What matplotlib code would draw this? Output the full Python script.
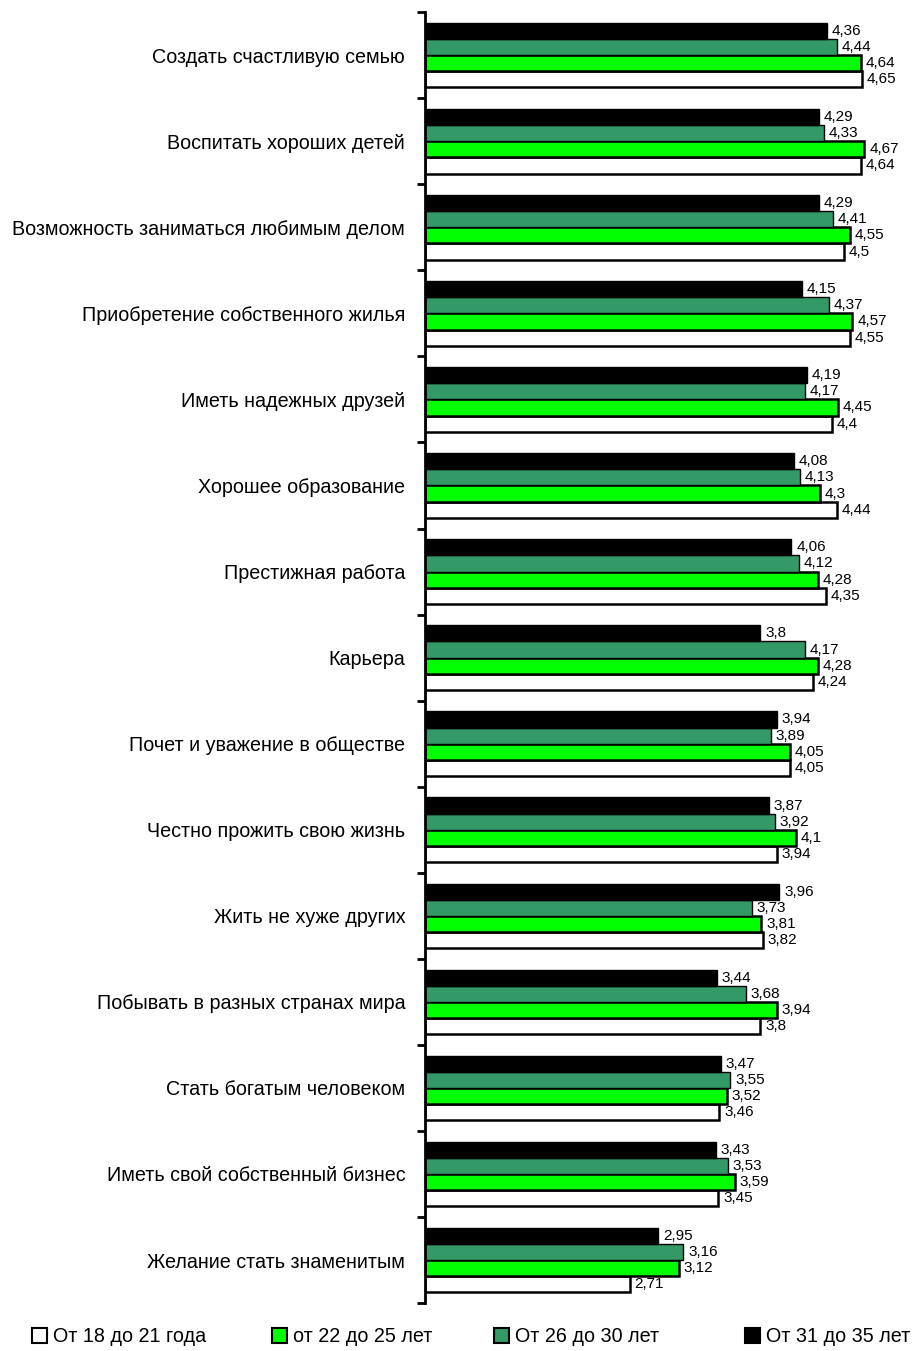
import matplotlib
matplotlib.use("Agg")
import matplotlib.pyplot as plt
import numpy as np
from matplotlib.patches import Patch

plt.rcParams['font.family'] = ['Liberation Sans', 'DejaVu Sans']

categories = [
    "Создать счастливую семью",
    "Воспитать хороших детей",
    "Возможность заниматься любимым делом",
    "Приобретение собственного жилья",
    "Иметь надежных друзей",
    "Хорошее образование",
    "Престижная работа",
    "Карьера",
    "Почет и уважение в обществе",
    "Честно прожить свою жизнь",
    "Жить не хуже других",
    "Побывать в разных странах мира",
    "Стать богатым человеком",
    "Иметь свой собственный бизнес",
    "Желание стать знаменитым",
]
age_18_21 = [4.65, 4.64, 4.5, 4.55, 4.4, 4.44, 4.35, 4.24, 4.05, 3.94, 3.82, 3.8, 3.46, 3.45, 2.71]
age_22_25 = [4.64, 4.67, 4.55, 4.57, 4.45, 4.3, 4.28, 4.28, 4.05, 4.1, 3.81, 3.94, 3.52, 3.59, 3.12]
age_26_30 = [4.44, 4.33, 4.41, 4.37, 4.17, 4.13, 4.12, 4.17, 3.89, 3.92, 3.73, 3.68, 3.55, 3.53, 3.16]
age_31_35 = [4.36, 4.29, 4.29, 4.15, 4.19, 4.08, 4.06, 3.8, 3.94, 3.87, 3.96, 3.44, 3.47, 3.43, 2.95]
series_labels = ["От 18 до 21 года", "от 22 до 25 лет", "От 26 до 30 лет", "От 31 до 35 лет"]
colors = ["#FFFFFF", "#00FF00", "#339966", "#000000"]
edge_widths = [1.8, 1.8, 1.0, 1.0]

fig = plt.figure(figsize=(9.22, 13.51), dpi=100)
ax = fig.add_axes([0.4605, 0.0355, 0.52, 0.9555])

n = len(categories)
y = np.arange(n)
h = 0.1875
series = [age_18_21, age_22_25, age_26_30, age_31_35]
offsets = [1.5 * h, 0.5 * h, -0.5 * h, -1.5 * h]
xmin = 1.0
for vals, col, off, lw in zip(series, colors, offsets, edge_widths):
    vals = np.array(vals)
    ax.barh(y + off, vals - xmin, left=xmin, height=h, color=col,
            edgecolor='black', linewidth=lw, zorder=2)
    for yi, v in zip(y, vals):
        txt = ("%g" % v).replace('.', ',')
        ax.text(v + 0.04, yi + off, txt, va='center', ha='left', fontsize=11)

ax.set_xlim(xmin, 5.0)
ax.set_ylim(n - 0.5, -0.5)
ax.set_yticks(y)
ax.set_yticklabels(categories, fontsize=14.2)
ax.tick_params(axis='y', which='major', length=0, pad=14)
ax.set_yticks(np.arange(n + 1) - 0.5, minor=True)
ax.tick_params(axis='y', which='minor', length=6, width=2, direction='out')
ax.set_xticks([])
for s in ['top', 'right', 'bottom']:
    ax.spines[s].set_visible(False)
ax.spines['left'].set_linewidth(2)

legend_x = [0.035, 0.295, 0.536, 0.808]
for c, lab, lx in zip(colors, series_labels, legend_x):
    hnd = Patch(facecolor=c, edgecolor='black', linewidth=1.5)
    leg = fig.legend([hnd], [lab], loc='center left', bbox_to_anchor=(lx, 0.0105),
                     frameon=False, fontsize=14.2, handlelength=0.75, handleheight=0.75,
                     handletextpad=0.3, borderaxespad=0.0, borderpad=0.0)

fig.savefig("out.png", dpi=100)
